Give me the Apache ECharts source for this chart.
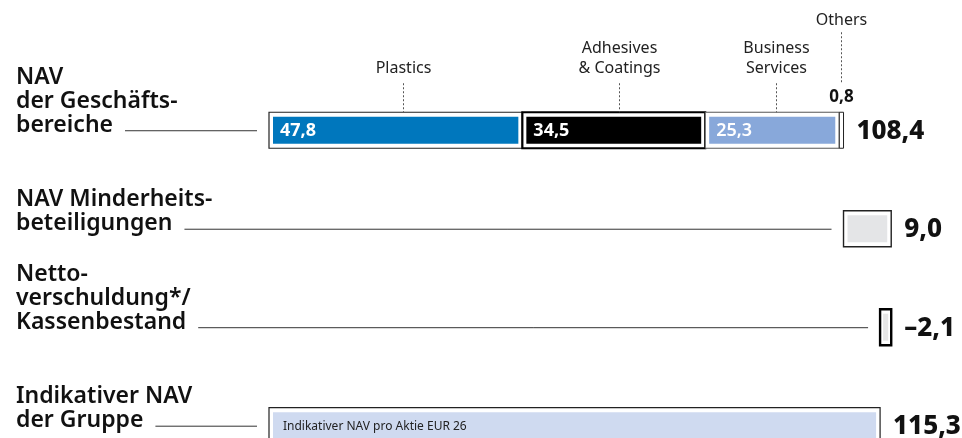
<!DOCTYPE html>
<html lang="de">

<head>
  <meta charset="UTF-8">
  <title>NAV</title>
  <style>
    html,
    body {
      width: 100%;
      height: 100%;
      padding: 0;
      margin: 0;
      background: #fff;
    }

    #eChart {
      width: 962px;
      height: 438px;
    }
  </style>
</head>

<body>
  <div id="eChart"></div>

  <script src="https://cdn.jsdelivr.net/npm/echarts@6/dist/echarts.min.js"></script>
  <script>
    // Daten
    var rowLabels = ['NAV\nder Geschäfts-\nbereiche', 'NAV Minderheits-\nbeteiligungen', 'Netto-\nverschuldung*/\nKassenbestand', 'Indikativer NAV\nder Gruppe'];
    var segmentNames = ['Plastics', 'Adhesives\n& Coatings', 'Business\nServices', 'Others'];
    var segmentValues = [47.8, 34.5, 25.3, 0.8];
    var minorityValue = 9.0;
    var netDebtValue = -2.1;
    var groupNavValue = 115.3;
    var navPerShare = 26;

    var FONT = '"Noto Sans", sans-serif';

    // Stile je Balkenart: 0-3 Segmente, 4 Minderheit, 5 Nettoverschuldung, 6 Gruppe
    var barStyles = [
      { border: '#222', lw: 1.2, fill: '#0077bd', label: '#fff', weight: 700 },
      { border: '#000', lw: 2.2, fill: '#000', label: '#fff', weight: 700 },
      { border: '#555', lw: 1, fill: '#88a8da', label: '#fff', weight: 600 },
      { border: '#222', lw: 1, fill: '#fff', label: null },
      { border: '#222', lw: 1.4, fill: '#e4e5e7', label: null },
      { border: '#000', lw: 2.4, fill: '#e6e6e6', label: null, inset: 3 },
      { border: '#222', lw: 1.2, fill: '#cfdaf0', label: null }
    ];

    function fmt(v) {
      var s = Math.abs(v).toFixed(1).replace('.', ',');
      return v < 0 ? '–' + s : s;
    }

    // Balken aufbauen (Wasserfall)
    var bars = [];
    var totals = [];
    var acc = 0;
    segmentValues.forEach(function (v, i) {
      bars.push([acc, acc + v, 0, i, v]);
      acc = Math.round((acc + v) * 10) / 10;
    });
    var businessTotal = acc;
    totals.push([0, businessTotal, 0, businessTotal]);
    bars.push([businessTotal, businessTotal + minorityValue, 1, 4, minorityValue]);
    totals.push([businessTotal, businessTotal + minorityValue, 1, minorityValue]);
    var afterMinority = businessTotal + minorityValue;
    bars.push([afterMinority, afterMinority + netDebtValue, 2, 5, netDebtValue]);
    totals.push([afterMinority, afterMinority + netDebtValue, 2, netDebtValue]);
    bars.push([0, groupNavValue, 3, 6, groupNavValue]);
    totals.push([0, groupNavValue, 3, groupNavValue]);

    var annotations = [];
    acc = 0;
    segmentValues.forEach(function (v, i) {
      annotations.push([acc, acc + v, 0, i, v]);
      acc += v;
    });

    var measureCtx = document.createElement('canvas').getContext('2d');
    var BAR_H = 36;

    function renderBar(params, api) {
      var s = api.value(0), e = api.value(1), row = api.value(2), k = api.value(3), v = api.value(4);
      var a = api.coord([Math.min(s, e), row]);
      var b = api.coord([Math.max(s, e), row]);
      var st = barStyles[k];
      var cy = a[1];
      var x0 = a[0], w = b[0] - a[0];
      var y0 = cy - BAR_H / 2;
      var inset = st.inset || 4;
      var children = [{
        type: 'rect',
        shape: { x: x0, y: y0, width: w, height: BAR_H },
        style: { fill: '#fff', stroke: st.border, lineWidth: st.lw }
      }];
      if (w > inset * 2 + 1) {
        children.push({
          type: 'rect',
          shape: { x: x0 + inset, y: y0 + 4.5, width: w - inset * 2, height: BAR_H - 9 },
          style: { fill: st.fill }
        });
      }
      if (st.label) {
        children.push({
          type: 'text',
          style: {
            x: x0 + inset + 7, y: cy + 1, text: fmt(v),
            fill: st.label, font: st.weight + ' 18px ' + FONT,
            verticalAlign: 'middle', align: 'left'
          }
        });
      }
      if (k === 6) {
        children.push({
          type: 'text',
          style: {
            x: x0 + 14, y: cy + 1, text: 'Indikativer NAV pro Aktie EUR ' + navPerShare,
            fill: '#222', font: '400 12px ' + FONT,
            verticalAlign: 'middle', align: 'left'
          }
        });
      }
      return { type: 'group', children: children };
    }

    function renderTotal(params, api) {
      var s = api.value(0), e = api.value(1), row = api.value(2), v = api.value(3);
      var p = api.coord([Math.max(s, e), row]);
      return {
        type: 'text',
        style: {
          x: p[0] + 13, y: p[1] + 1, text: fmt(v),
          fill: '#111', font: '800 26px ' + FONT,
          verticalAlign: 'middle', align: 'left'
        }
      };
    }

    function renderRowLabel(params, api) {
      var row = api.value(0);
      var startVal = api.value(1);
      var lbl = rowLabels[row];
      var cy = api.coord([0, row])[1];
      var barX = api.coord([startVal, row])[0];
      var font = '600 23px ' + FONT;
      var lines = lbl.split('\n');
      measureCtx.font = font;
      var lastW = measureCtx.measureText(lines[lines.length - 1]).width;
      return {
        type: 'group',
        children: [{
          type: 'text',
          style: {
            x: 16, y: cy + 7, text: lbl, fill: '#111', font: font,
            lineHeight: 24, verticalAlign: 'bottom', align: 'left'
          }
        }, {
          type: 'line',
          shape: { x1: 16 + lastW + 12, y1: cy + 0.5, x2: barX - 12, y2: cy + 0.5 },
          style: { stroke: '#333', lineWidth: 1 }
        }]
      };
    }

    function renderAnnotation(params, api) {
      var s = api.value(0), e = api.value(1), row = api.value(2), i = api.value(3), v = api.value(4);
      var a = api.coord([s, row]), b = api.coord([e, row]);
      var last = i === segmentNames.length - 1;
      var x = Math.round(last ? (a[0] + b[0]) / 2 : a[0] + (b[0] - a[0]) * 0.53) + 0.5;
      var top = a[1] - BAR_H / 2;
      var children = [];
      if (last) {
        children.push({
          type: 'text',
          style: { x: x, y: top - 82, text: segmentNames[i], fill: '#222', font: '400 16px ' + FONT, align: 'center', verticalAlign: 'bottom', lineHeight: 20 }
        }, {
          type: 'line',
          shape: { x1: x, y1: top - 80, x2: x, y2: top - 29 },
          style: { stroke: '#555', lineWidth: 1, lineDash: [2, 2] }
        }, {
          type: 'text',
          style: { x: x, y: top - 15, text: fmt(v), fill: '#111', font: '700 17px ' + FONT, align: 'center', verticalAlign: 'middle' }
        });
      } else {
        children.push({
          type: 'text',
          style: { x: x, y: top - 34, text: segmentNames[i], fill: '#222', font: '400 16px ' + FONT, align: 'center', verticalAlign: 'bottom', lineHeight: 20 }
        }, {
          type: 'line',
          shape: { x1: x, y1: top - 29, x2: x, y2: top },
          style: { stroke: '#555', lineWidth: 1, lineDash: [2, 2] }
        });
      }
      return { type: 'group', children: children };
    }

    var rowStarts = rowLabels.map(function (l, i) {
      var first = bars.filter(function (b) { return b[2] === i; })[0];
      return [i, Math.min(first[0], first[1])];
    });

    var myChart = echarts.init(document.getElementById('eChart'));
    myChart.setOption({
      animation: false,
      grid: { left: 269, right: 4, top: 81, bottom: 0 },
      xAxis: { type: 'value', min: 0, max: 130, show: false },
      // Zeilen als Zahlen; unterste Zeile läuft über den unteren Rand hinaus
      yAxis: { type: 'value', min: -0.5, max: 3.125, inverse: true, show: false },
      series: [{
        type: 'custom',
        renderItem: renderRowLabel,
        encode: { x: 1, y: 0 },
        data: rowStarts,
        clip: false,
        z: 1
      }, {
        type: 'custom',
        renderItem: renderBar,
        encode: { x: [0, 1], y: 2 },
        data: bars,
        clip: false,
        z: 2
      }, {
        type: 'custom',
        renderItem: renderTotal,
        encode: { x: [0, 1], y: 2 },
        data: totals,
        clip: false,
        z: 3
      }, {
        type: 'custom',
        renderItem: renderAnnotation,
        encode: { x: [0, 1], y: 2 },
        data: annotations,
        clip: false,
        z: 3
      }]
    });
  </script>
</body>

</html>
